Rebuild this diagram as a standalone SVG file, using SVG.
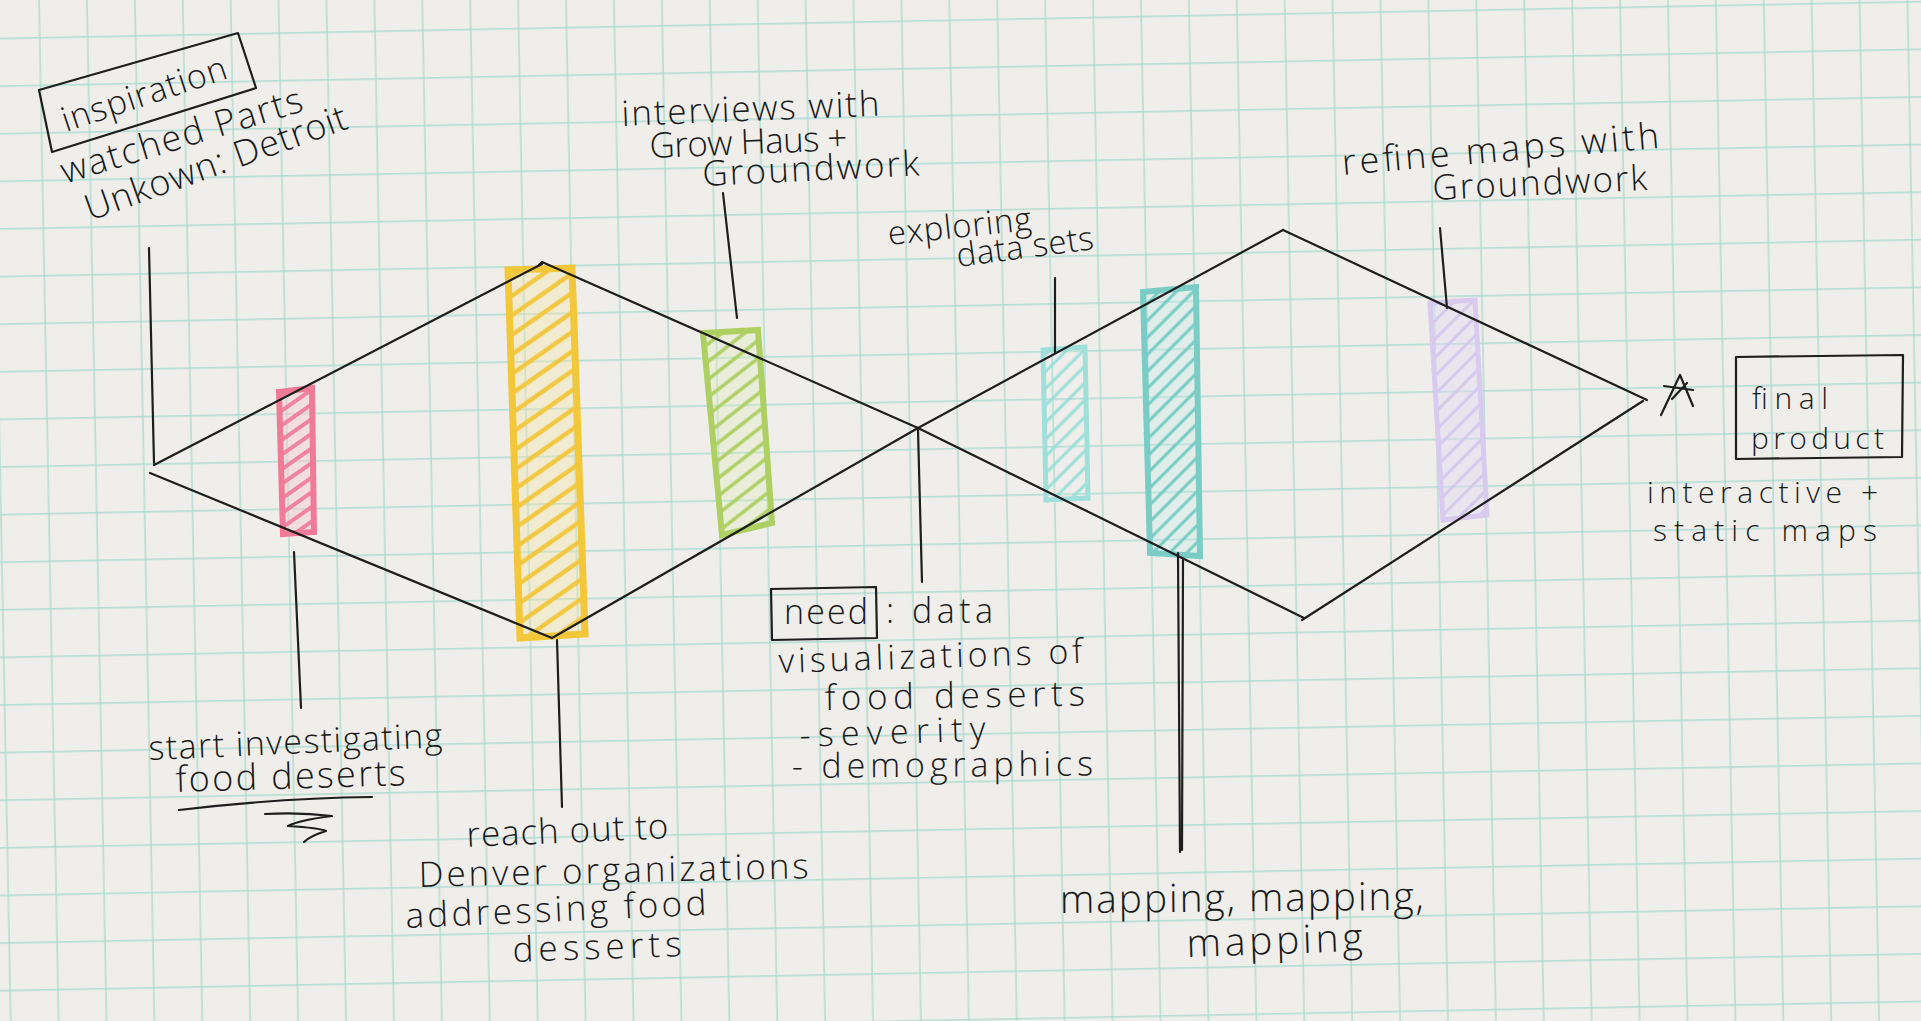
<svg xmlns="http://www.w3.org/2000/svg" width="1921" height="1021" viewBox="0 0 1921 1021">
<defs>
<style>
.pen{stroke:#1e1e1e;stroke-width:2.2;fill:none;stroke-linecap:round;stroke-linejoin:round}
.hand{font-family:"Open Sans","Liberation Sans",sans-serif;font-weight:300;fill:#1a1a1a}
.box{stroke:#1e1e1e;stroke-width:2.2;fill:none;stroke-linejoin:round}
</style>
<pattern id="grid" width="47.9" height="47.6" patternUnits="userSpaceOnUse" patternTransform="rotate(-1.1)">
<path d="M39 0V47.6M0 38.6H47.9" stroke="#a3d8cd" stroke-width="1.2" fill="none"/>
</pattern>
<pattern id="hP" width="20" height="12" patternUnits="userSpaceOnUse" patternTransform="rotate(-35)"><line x1="0" y1="6" x2="20" y2="6" stroke="#f084a0" stroke-width="4"/></pattern>
<pattern id="hY" width="20" height="16" patternUnits="userSpaceOnUse" patternTransform="rotate(-35)"><line x1="0" y1="8" x2="20" y2="8" stroke="#f2c842" stroke-width="4.5"/></pattern>
<pattern id="hG" width="20" height="14" patternUnits="userSpaceOnUse" patternTransform="rotate(-38)"><line x1="0" y1="7" x2="20" y2="7" stroke="#b0d066" stroke-width="3.5"/></pattern>
<pattern id="hC1" width="20" height="12" patternUnits="userSpaceOnUse" patternTransform="rotate(-45)"><line x1="0" y1="6" x2="20" y2="6" stroke="#9adfd9" stroke-width="3"/></pattern>
<pattern id="hC2" width="20" height="12" patternUnits="userSpaceOnUse" patternTransform="rotate(-45)"><line x1="0" y1="6" x2="20" y2="6" stroke="#76ccc5" stroke-width="3"/></pattern>
<pattern id="hV" width="20" height="13" patternUnits="userSpaceOnUse" patternTransform="rotate(-45)"><line x1="0" y1="6.5" x2="20" y2="6.5" stroke="#d6c9ee" stroke-width="3"/></pattern>
</defs>

<rect x="0" y="0" width="1921" height="1021" fill="#efeeea"/>
<rect x="0" y="0" width="1921" height="1021" fill="url(#grid)"/>

<g id="bars">
<g id="bar-pink">
<polygon points="279,392 312,388 314,532 283,534" fill="#f6c9d3" fill-opacity="0.45"/>
<polygon points="279,392 312,388 314,532 283,534" fill="url(#hP)" stroke="#ef7b98" stroke-width="6"/>
</g>
<g id="bar-yellow">
<polygon points="508,270 572,268 585,634 520,638" fill="#f7e6a6" fill-opacity="0.35"/>
<polygon points="508,270 572,268 585,634 520,638" fill="url(#hY)" stroke="#f2c73a" stroke-width="7"/>
</g>
<g id="bar-green">
<polygon points="703,333 758,330 772,523 722,535" fill="#dfeab9" fill-opacity="0.35"/>
<polygon points="703,333 758,330 772,523 722,535" fill="url(#hG)" stroke="#aecf62" stroke-width="6"/>
</g>
<g id="bar-cyan-small">
<polygon points="1043,350 1085,347 1088,498 1046,500" fill="url(#hC1)" stroke="#9fe0da" stroke-width="5"/>
</g>
<g id="bar-cyan-large">
<polygon points="1143,292 1196,287 1200,556 1150,553" fill="#c6ebe7" fill-opacity="0.35"/>
<polygon points="1143,292 1196,287 1200,556 1150,553" fill="url(#hC2)" stroke="#79cdc6" stroke-width="6"/>
</g>
<g id="bar-purple">
<polygon points="1430,303 1475,300 1487,515 1443,520" fill="#e3d9f3" fill-opacity="0.45"/>
<polygon points="1430,303 1475,300 1487,515 1443,520" fill="url(#hV)" stroke="#d8cbef" stroke-width="5"/>
</g>
</g>

<g id="diamonds">
<path class="pen" d="M154,465 L542,264"/>
<path class="pen" d="M150,473 L552,638"/>
<path class="pen" d="M538,266 L542,262 L918,428 L1304,618"/>
<path class="pen" d="M552,638 L918,428 L1283,230"/>
<path class="pen" d="M1283,230 L1647,400"/>
<path class="pen" d="M1302,620 L1643,401"/>
</g>

<g id="connectors">
<path class="pen" d="M149,248 L154,463"/>
<path class="pen" d="M723,193 L737,318"/>
<path class="pen" d="M1055,278 L1055,353"/>
<path class="pen" d="M1440,228 L1447,308"/>
<path class="pen" d="M294,552 L301,708"/>
<path class="pen" d="M557,640 L562,807"/>
<path class="pen" d="M918,430 L922,582"/>
<path class="pen" d="M1178,553 L1180,852"/>
<path class="pen" d="M1183,560 L1182,850"/>
</g>

<g id="inspiration">
<polygon class="box" points="39,90 238,33 256,88 52,152"/>
<text class="hand" font-size="34" x="66" y="132" textLength="172" transform="rotate(-18.3 66 132)">inspiration</text>
<text class="hand" font-size="36" x="65" y="184" textLength="251" transform="rotate(-17 65 184)">watched Parts</text>
<text class="hand" font-size="36" x="90" y="221" textLength="276" transform="rotate(-19.7 90 221)">Unkown: Detroit</text>
</g>

<g id="interviews">
<text class="hand" font-size="35" x="622" y="126" textLength="258" transform="rotate(-2.3 622 126)">interviews with</text>
<text class="hand" font-size="35" x="650" y="158" textLength="198" transform="rotate(-2.3 650 158)">Grow Haus +</text>
<text class="hand" font-size="35" x="703" y="186" textLength="217" transform="rotate(-2.8 703 186)">Groundwork</text>
</g>

<g id="exploring">
<text class="hand" font-size="33" x="889" y="245" textLength="144" transform="rotate(-6 889 245)">exploring</text>
<text class="hand" font-size="33" x="958" y="267" textLength="138" transform="rotate(-7.5 958 267)">data sets</text>
</g>

<g id="refine">
<text class="hand" font-size="36" x="1343" y="175" textLength="318" transform="rotate(-4.9 1343 175)">refine maps with</text>
<text class="hand" font-size="35" x="1433" y="200" textLength="215" transform="rotate(-2.7 1433 200)">Groundwork</text>
</g>

<g id="final-product">
<path class="pen" d="M1661,415 L1680,375 L1693,406 M1664,386 L1693,390 M1672,399 L1687,383"/>
<polygon class="box" points="1736,357 1903,355 1902,457 1736,459"/>
<text class="hand" font-size="30" x="1752" y="409" textLength="76">final</text>
<text class="hand" font-size="30" x="1751" y="449" textLength="133">product</text>
<text class="hand" font-size="30" x="1647" y="503" textLength="231">interactive +</text>
<text class="hand" font-size="30" x="1653" y="541" textLength="224">static maps</text>
</g>

<g id="start-investigating">
<text class="hand" font-size="34" x="149" y="760" textLength="294" transform="rotate(-2.5 149 760)">start investigating</text>
<text class="hand" font-size="36" x="176" y="792" textLength="230" transform="rotate(-1.7 176 792)">food deserts</text>
<path class="pen" d="M179,810 Q280,798 372,797"/>
<path class="pen" d="M265,814 Q300,812 332,816 Q300,820 288,826 Q320,828 326,831 Q310,836 304,842"/>
</g>

<g id="reach-out">
<text class="hand" font-size="35" x="467" y="847" textLength="202" transform="rotate(-2.5 467 847)">reach out to</text>
<text class="hand" font-size="35" x="419" y="887" textLength="390" transform="rotate(-1.3 419 887)">Denver organizations</text>
<text class="hand" font-size="35" x="406" y="928" textLength="301" transform="rotate(-2.5 406 928)">addressing food</text>
<text class="hand" font-size="35" x="513" y="962" textLength="169" transform="rotate(-2 513 962)">desserts</text>
</g>

<g id="need">
<polygon class="box" points="771,589 876,587 877,638 772,640"/>
<text class="hand" font-size="34" x="784" y="624" textLength="84">need</text>
<text class="hand" font-size="34" x="886" y="623" textLength="107">: data</text>
<text class="hand" font-size="34" x="779" y="673" textLength="304" transform="rotate(-1.9 779 673)">visualizations of</text>
<text class="hand" font-size="35" x="825" y="710" textLength="260" transform="rotate(-1 825 710)">food deserts</text>
<text class="hand" font-size="34" x="800" y="747" textLength="186" transform="rotate(-2 800 747)">-severity</text>
<text class="hand" font-size="34" x="792" y="778" textLength="301" transform="rotate(-0.5 792 778)">- demographics</text>
</g>

<g id="mapping">
<text class="hand" font-size="39" x="1060" y="913" textLength="364" transform="rotate(-0.5 1060 913)">mapping, mapping,</text>
<text class="hand" font-size="39" x="1187" y="957" textLength="176" transform="rotate(-2 1187 957)">mapping</text>
</g>
</svg>
